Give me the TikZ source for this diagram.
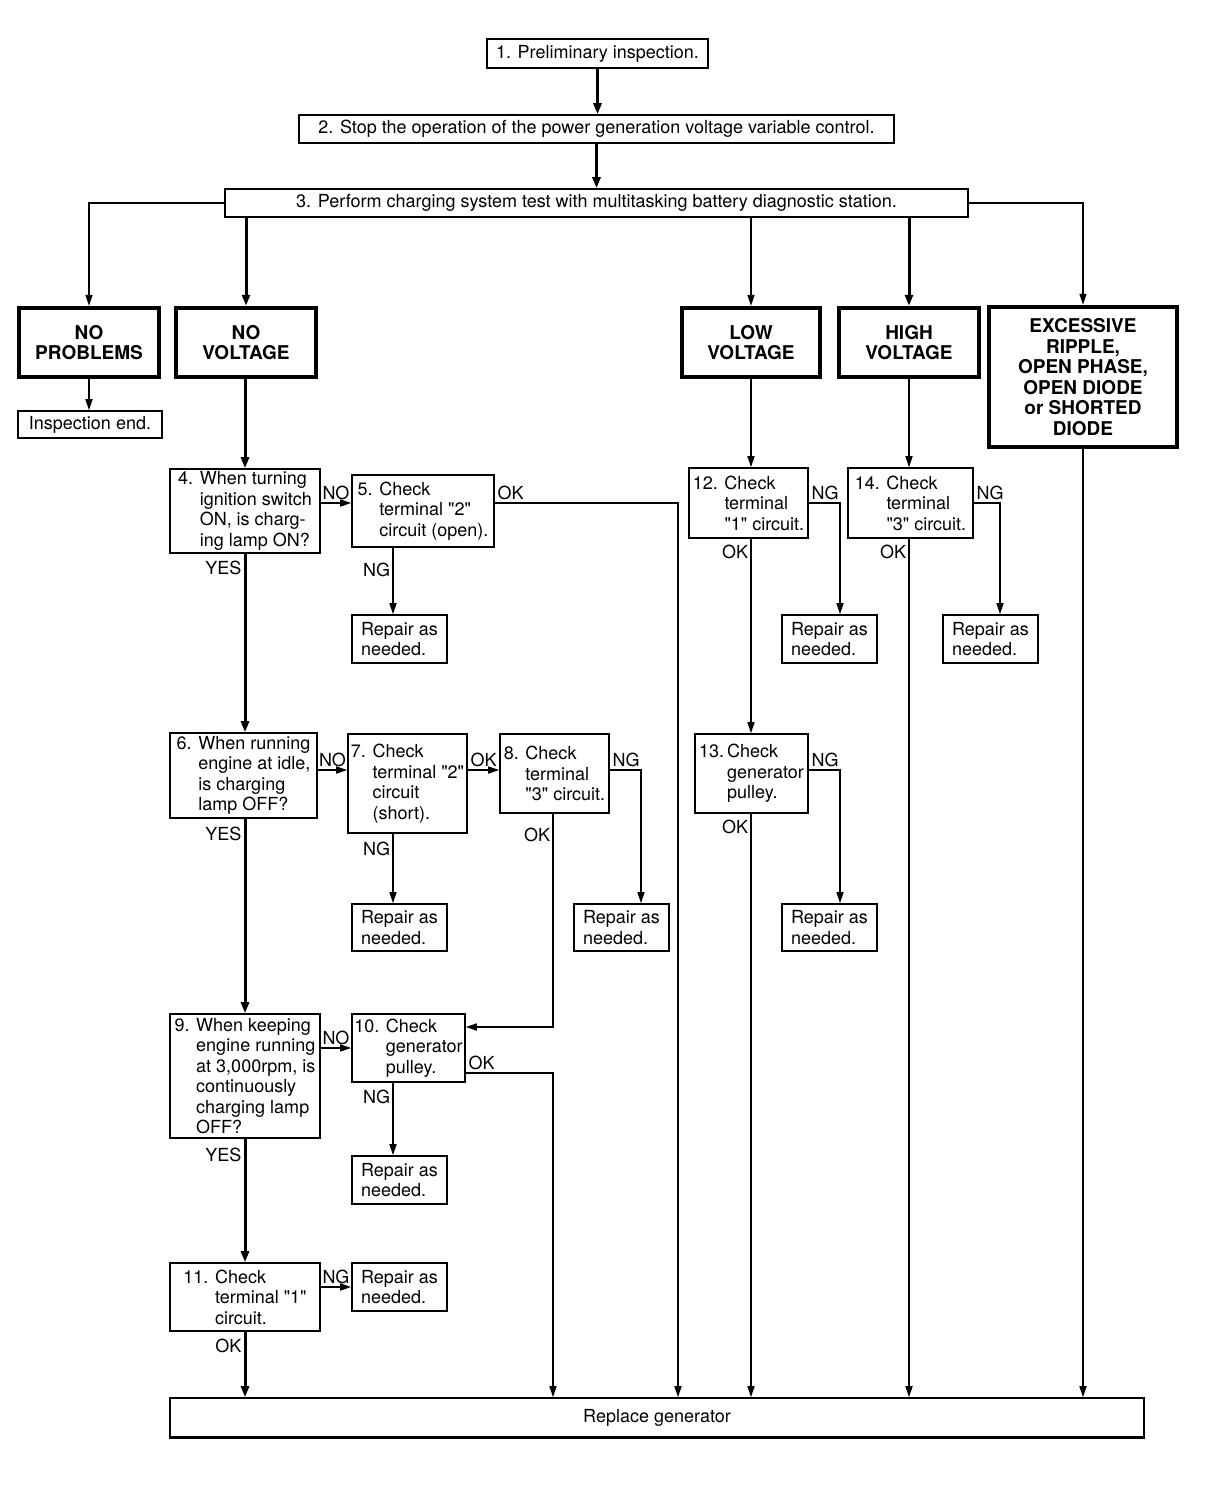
\documentclass[tikz,border=0pt]{standalone}
\usepackage{fontspec}
\setmainfont{TeX Gyre Heros}
\usetikzlibrary{arrows.meta}

\tikzset{
	txt/.style={font=\fontsize{18}{20.5}\selectfont},
	lbl/.style={txt, inner sep=2pt},
	box/.style={draw, line width=1.6pt, txt, inner sep=2pt, align=left},
	topbox/.style={box, align=center},
	heavy/.style={draw, line width=4.5pt, font=\bfseries\fontsize{19}{20.5}\selectfont, align=center, inner sep=2pt},
	fix/.style 2 args={minimum width=#1pt, minimum height=#2pt},
	thn/.style={line width=1.6pt, -{Triangle[width=7pt,length=11pt]}},
	thk/.style={line width=3pt, -{Triangle[width=8pt,length=11pt]}},
}
\newcommand{\ind}[1]{\phantom{#1}}
\newcommand{\qt}[1]{\textquotedbl#1\textquotedbl}

\begin{document}
\begin{tikzpicture}[x=1pt, y=-1pt]
	\useasboundingbox (0,0) rectangle (1216,1510);

	% columns and rows the connectors run along
	\coordinate (mainx) at (245,0);
	\coordinate (ngx) at (393,0);
	\coordinate (ok8x) at (553,0);
	\coordinate (ng8x) at (641,0);
	\coordinate (ok5x) at (678,0);
	\coordinate (ngrx) at (840,0);
	\coordinate (ng14x) at (1000,0);
	\coordinate (row4) at (0,503);
	\coordinate (row6) at (0,770);
	\coordinate (row10a) at (0,1027);
	\coordinate (row9) at (0,1048);
	\coordinate (row10b) at (0,1073);
	\coordinate (row11) at (0,1287);

	% top of the chart
	\node[topbox, fix={221}{29}] (p1) at (597.5,53.5) {1. Preliminary inspection.};
	\node[topbox, fix={595}{28}] (p2) at (596.5,129) {2. Stop the operation of the power generation voltage variable control.};
	\node[topbox, fix={743}{28}] (p3) at (596.5,203) {3. Perform charging system test with multitasking battery diagnostic station.};

	% results of the test
	\node[heavy, fix={140}{69}] (nop) at (89,342.5) {NO\\PROBLEMS};
	\node[heavy, fix={140}{69}] (nov) at (246,342.5) {NO\\VOLTAGE};
	\node[heavy, fix={138}{69}] (low) at (751,342.5) {LOW\\VOLTAGE};
	\node[heavy, fix={140}{69}] (high) at (909,342.5) {HIGH\\VOLTAGE};
	\node[heavy, fix={188}{140}] (exc) at (1083,377) {EXCESSIVE\\RIPPLE,\\OPEN PHASE,\\OPEN DIODE\\ or SHORTED\\DIODE};
	\node[topbox, fix={144}{27}] (iend) at (90,424.5) {Inspection end.};

	% no voltage branch
	\node[box, fix={150}{84}] (q4) at (245,511) {4. When turning\\\ind{4. }ignition switch\\\ind{4. }ON, is charg-\\\ind{4. }ing lamp ON?};
	\node[box, fix={142}{72}] (c5) at (423,511) {5. Check\\\ind{5. }terminal \qt{2}\\\ind{5. }circuit (open).};
	\node[box, fix={95}{48}] (r1) at (399.5,639) {Repair as\\needed.};
	\node[box, fix={147}{85}] (q6) at (243.5,775.5) {6. When running\\\ind{6. }engine at idle,\\\ind{6. }is charging\\\ind{6. }lamp OFF?};
	\node[box, fix={119}{99}] (c7) at (407.5,783.5) {7. Check\\\ind{7. }terminal \qt{2}\\\ind{7. }circuit\\\ind{7. }(short).};
	\node[box, fix={109}{79}] (c8) at (554.5,773.5) {8. Check\\\ind{8. }terminal\\\ind{8. }\qt{3} circuit.};
	\node[box, fix={95}{47}] (r2) at (399.5,927.5) {Repair as\\needed.};
	\node[box, fix={95}{47}] (r3) at (621.5,927.5) {Repair as\\needed.};
	\node[box, fix={150}{124}] (q9) at (245,1076) {9. When keeping\\\ind{9. }engine running\\\ind{9. }at 3,000rpm, is\\\ind{9. }continuously\\\ind{9. }charging lamp\\\ind{9. }OFF?};
	\node[box, fix={113}{68}] (c10) at (408.5,1048) {10. Check\\\ind{10. }generator\\\ind{10. }pulley.};
	\node[box, fix={95}{48}] (r4) at (399.5,1180) {Repair as\\needed.};
	\node[box, fix={150}{68}] (q11) at (245,1297) {11. Check\\\ind{11. }terminal \qt{1}\\\ind{11. }circuit.};
	\node[box, fix={95}{48}] (r5) at (399.5,1287) {Repair as\\needed.};

	% low and high voltage branches
	\node[box, fix={119}{70}] (c12) at (748.5,503) {12. Check\\\ind{12. }terminal\\\ind{12. }\qt{1} circuit.};
	\node[box, fix={95}{48}] (r6) at (829.5,639) {Repair as\\needed.};
	\node[box, fix={113}{79}] (c13) at (751.5,773.5) {13.\,Check\\\ind{13.\,}generator\\\ind{13.\,}pulley.};
	\node[box, fix={95}{47}] (r7) at (829.5,927.5) {Repair as\\needed.};
	\node[box, fix={125}{70}] (c14) at (910.5,503) {14. Check\\\ind{14. }terminal\\\ind{14. }\qt{3} circuit.};
	\node[box, fix={95}{48}] (r8) at (990.5,639) {Repair as\\needed.};

	\node[topbox, fix={974}{39}] (rg) at (657,1417.5) {Replace generator};
	\draw[line width=3pt] (rg.south west) -- (rg.south east);

	% connectors
	\draw[thk] (p1.south) -- (p1.south |- p2.north);
	\draw[thk] (p2.south) -- (p2.south |- p3.north);
	\draw[thn] (p3.west) -| (nop.north);
	\draw[thk] (nov.north |- p3.south) -- (nov.north);
	\draw[thn] (low.north |- p3.south) -- (low.north);
	\draw[thk] (high.north |- p3.south) -- (high.north);
	\draw[thn] (p3.east) -| (exc.north);
	\draw[thn] (nop.south) -- (nop.south |- iend.north);

	\draw[thk] (nov.south -| mainx) -- (q4.north -| mainx);
	\draw[thn] (q4.east |- row4) -- node[lbl, above] {NO} (c5.west |- row4);
	\draw[thn] (c5.east |- row4) -| node[lbl, pos=0, above right] {OK} (rg.north -| ok5x);
	\draw[thn] (c5.south -| ngx) -- node[lbl, pos=0.34, left] {NG} (r1.north -| ngx);
	\draw[thk] (q4.south -| mainx) -- node[lbl, pos=0.08, left] {YES} (q6.north -| mainx);

	\draw[thn] (q6.east |- row6) -- node[lbl, above] {NO} (c7.west |- row6);
	\draw[thn] (c7.east |- row6) -- node[lbl, above] {OK} (c8.west |- row6);
	\draw[thn] (c8.east |- row6) -| node[lbl, pos=0, above right] {NG} (r3.north -| ng8x);
	\draw[thn] (c7.south -| ngx) -- node[lbl, pos=0.22, left] {NG} (r2.north -| ngx);
	\draw[thn] (c8.south -| ok8x) |- node[lbl, pos=0.05, left] {OK} (c10.east |- row10a);
	\draw[thk] (q6.south -| mainx) -- node[lbl, pos=0.08, left] {YES} (q9.north -| mainx);

	\draw[thn] (q9.east |- row9) -- node[lbl, above] {NO} (c10.west |- row9);
	\draw[thn] (c10.east |- row10b) -| node[lbl, pos=0, above right] {OK} (rg.north -| ok8x);
	\draw[thn] (c10.south -| ngx) -- node[lbl, pos=0.19, left] {NG} (r4.north -| ngx);
	\draw[thk] (q9.south -| mainx) -- node[lbl, pos=0.13, left] {YES} (q11.north -| mainx);

	\draw[thn] (q11.east |- row11) -- node[lbl, above] {NG} (r5.west |- row11);
	\draw[thk] (q11.south -| mainx) -- node[lbl, pos=0.21, left] {OK} (rg.north -| mainx);

	\draw[thn] (low.south) -- (low.south |- c12.north);
	\draw[thn] (c12.east |- row4) -| node[lbl, pos=0, above right] {NG} (r6.north -| ngrx);
	\draw[thn] (c12.south -| low.south) -- node[lbl, pos=0.066, left] {OK} (c13.north -| low.south);
	\draw[thn] (c13.east |- row6) -| node[lbl, pos=0, above right] {NG} (r7.north -| ngrx);
	\draw[thn] (c13.south -| low.south) -- node[lbl, pos=0.022, left] {OK} (rg.north -| low.south);

	\draw[thn] (high.south) -- (high.south |- c14.north);
	\draw[thn] (c14.east |- row4) -| node[lbl, pos=0, above right] {NG} (r8.north -| ng14x);
	\draw[thn] (c14.south -| high.south) -- node[lbl, pos=0.015, left] {OK} (rg.north -| high.south);

	\draw[thn] (exc.south) -- (exc.south |- rg.north);
\end{tikzpicture}
\end{document}
